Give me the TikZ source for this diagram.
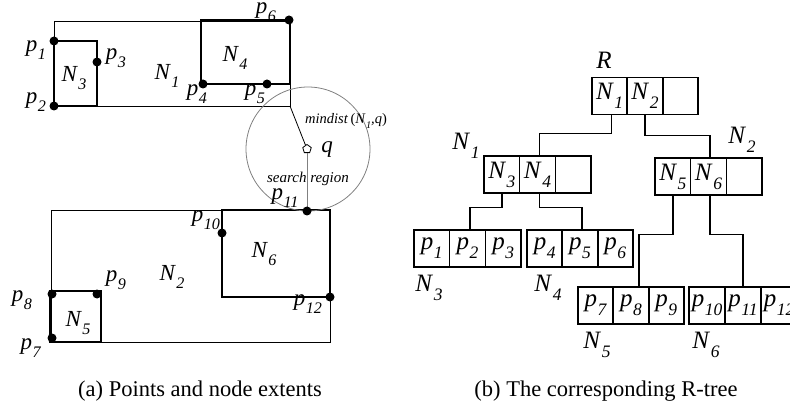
\documentclass[tikz,border=0pt]{standalone}
\usepackage{fontspec}
\setmainfont{Liberation Serif}
\usepackage{graphicx}
\usetikzlibrary{shapes.geometric}
\newcommand\lb[2]{\textit{#1}\kern0.02em\raisebox{-0.36em}{\scalebox{0.7}{\textit{#2}}}}
\begin{document}
\begin{tikzpicture}[x=1pt,y=-1pt,
  lab/.style={inner sep=0pt, font=\fontsize{23}{23}\selectfont},
  thinr/.style={line width=0.9pt},
  thickr/.style={line width=2.6pt},
  cell/.style={draw, line width=1.5pt, minimum width=35.6pt, minimum height=37pt, inner sep=0pt, font=\fontsize{25}{25}\selectfont},
  conn/.style={line width=1.4pt},
  captxt/.style={inner sep=0pt, font=\fontsize{22.5}{22.5}\selectfont}]
\useasboundingbox (0,0) rectangle (790,414);
% ---------- (a) ----------
\draw[thinr] (54,21) rectangle (290,106);
\draw[thickr] (54,41) rectangle (97,106);
\draw[thickr] (201,20) rectangle (290,84);
\draw[thinr] (51,210) rectangle (330,342);
\draw[thickr] (222,210) rectangle (330,297);
\draw[thickr] (50,291) rectangle (101,342);
% search circle
\draw[gray, line width=0.8pt] (308,149) circle (62);
\coordinate (corner) at (290,106);
\coordinate (p11c) at (307,211);
\node[regular polygon, regular polygon sides=5, draw, fill=white, line width=0.8pt, minimum size=9pt, inner sep=0pt] (q) at (307,149) {};
\draw[line width=0.8pt] (q) -- (corner);
\draw[gray, line width=1pt] (q) -- (p11c);
% points
\foreach \x/\y in {54/41,54/106,97/62,203/84,267/84,289/20,222/233,307/211,330/297,52/294,97/294,52/338}
  \fill (\x,\y) circle (4.5);
% labels
\node[lab] (lp1) at (36,50) {\lb{p}{1}};
\node[lab] (lp2) at (36,102) {\lb{p}{2}};
\node[lab] (lp3) at (116,58) {\lb{p}{3}};
\node[lab] (lN3) at (74,78) {\lb{N}{3}};
\node[lab] (lN1) at (167,76) {\lb{N}{1}};
\node[lab] (lN4) at (235,58) {\lb{N}{4}};
\node[lab] (lp4) at (197,94) {\lb{p}{4}};
\node[lab] (lp5) at (255,94) {\lb{p}{5}};
\node[lab] (lp6) at (266,12) {\lb{p}{6}};
\node[inner sep=0pt, anchor=west, font=\fontsize{14.5}{14.5}\selectfont] (md) at (305,121) {\textit{mindist}\,(\lb{N}{1}\textit{,q})};
\node[lab] (lq) at (327,150) {\textit{q}};
\node[inner sep=0pt, font=\fontsize{15}{15}\selectfont] (sr) at (308,179) {\textit{search region}};
\node[lab] (lp11) at (285,198) {\lb{p}{11}};
\node[lab] (lp10) at (206,220) {\lb{p}{10}};
\node[lab] (lN6) at (264,254) {\lb{N}{6}};
\node[lab] (lN2) at (172,277) {\lb{N}{2}};
\node[lab] (lp9) at (116,280) {\lb{p}{9}};
\node[lab] (lp8) at (22,300) {\lb{p}{8}};
\node[lab] (lN5) at (78,323) {\lb{N}{5}};
\node[lab] (lp7) at (31,348) {\lb{p}{7}};
\node[lab] (lp12) at (308,304) {\lb{p}{12}};
% ---------- (b) ----------
\node[lab, font=\fontsize{25}{25}\selectfont] (R) at (604,60) {\textit{R}};
\node[cell] (r1) at (609.7,96) {\lb{N}{1}};
\node[cell] (r2) at (645,96) {\lb{N}{2}};
\node[cell] (r3) at (680.3,96) {};
\node[lab, font=\fontsize{25}{25}\selectfont] (tN1) at (466,146) {\lb{N}{1}};
\node[cell] (a1) at (501.8,174.5) {\lb{N}{3}};
\node[cell] (a2) at (537.5,174.5) {\lb{N}{4}};
\node[cell] (a3) at (573.2,174.5) {};
\node[lab, font=\fontsize{25}{25}\selectfont] (tN2) at (742,140) {\lb{N}{2}};
\node[cell] (b1) at (672.8,176.5) {\lb{N}{5}};
\node[cell] (b2) at (708.5,176.5) {\lb{N}{6}};
\node[cell] (b3) at (744.2,176.5) {};
% leaves
\node[cell] (c1) at (431.8,248.5) {\lb{p}{1}};
\node[cell] (c2) at (467.5,248.5) {\lb{p}{2}};
\node[cell] (c3) at (503.2,248.5) {\lb{p}{3}};
\node[lab, font=\fontsize{25}{25}\selectfont] (tN3) at (429,288) {\lb{N}{3}};
\node[cell] (d1) at (544.7,248.5) {\lb{p}{4}};
\node[cell] (d2) at (580,248.5) {\lb{p}{5}};
\node[cell] (d3) at (615.3,248.5) {\lb{p}{6}};
\node[lab, font=\fontsize{25}{25}\selectfont] (tN4) at (548,288) {\lb{N}{4}};
\node[cell] (e1) at (595.7,305.5) {\lb{p}{7}};
\node[cell] (e2) at (631,305.5) {\lb{p}{8}};
\node[cell] (e3) at (666.3,305.5) {\lb{p}{9}};
\node[lab, font=\fontsize{25}{25}\selectfont] (tN5) at (597,345) {\lb{N}{5}};
\node[cell] (f1) at (707,305.5) {\lb{p}{10}};
\node[cell] (f2) at (743,305.5) {\lb{p}{11}};
\node[cell] (f3) at (779,305.5) {\lb{p}{12}};
\node[lab, font=\fontsize{25}{25}\selectfont] (tN6) at (706,345) {\lb{N}{6}};
% connectors
\draw[conn] ([xshift=2pt]r1.south) -- ++(0,18) -| ([xshift=2pt]a2.north);
\draw[conn] (r2.south) -- ++(0,20) -| ([xshift=1.5pt]b2.north);
\draw[conn] (a1.south) -- ++(0,14) -| ([xshift=2.5pt]c2.north);
\draw[conn] ([xshift=2pt]a2.south) -- ++(0,14) -| ([xshift=2pt]d2.north);
\draw[conn] (b1.south) -- ++(0,39) -| ([xshift=8pt]e2.north);
\draw[conn] ([xshift=1.5pt]b2.south) -- ++(0,39) -| (f2.north);
% captions
\node[captxt] (capa) at (200,391) {(a) Points and node extents};
\node[captxt] (capb) at (606,391) {(b) The corresponding R-tree};
\end{tikzpicture}
\end{document}
